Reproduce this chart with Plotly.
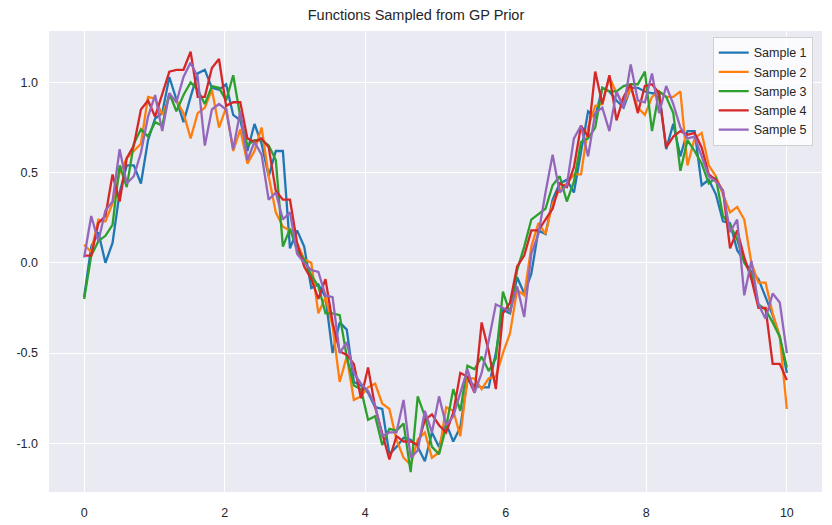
import numpy as np
import plotly.graph_objects as go

x_vals = np.linspace(0, 10, 100)

sample_1 = [-0.19, 0.09, 0.17, 0.0, 0.11, 0.39, 0.54, 0.54, 0.44, 0.68, 0.80, 0.83, 1.03, 0.91, 0.78, 0.92, 1.05, 1.07, 0.97, 0.96,
            0.99, 0.82, 0.79, 0.62, 0.77, 0.66, 0.48, 0.62, 0.62, 0.08, 0.18, 0.09, -0.14, -0.12, -0.19, -0.50, -0.33, -0.37, -0.66, -0.68,
            -0.72, -0.80, -0.81, -1.06, -1.02, -0.97, -0.98, -1.02, -1.10, -0.94, -1.02, -0.89, -0.99, -0.91, -0.65, -0.68, -0.69, -0.69, -0.50, -0.26,
            -0.28, -0.08, -0.17, -0.06, 0.18, 0.16, 0.35, 0.44, 0.46, 0.39, 0.62, 0.84, 0.81, 0.97, 0.95, 0.90, 0.86, 0.97, 0.97, 0.95,
            0.94, 0.94, 0.63, 0.77, 0.59, 0.73, 0.73, 0.43, 0.46, 0.38, 0.23, 0.22, 0.07, 0.01, -0.05, -0.09, -0.19, -0.29, -0.41, -0.61]

sample_2 = [0.10, 0.06, 0.24, 0.23, 0.33, 0.50, 0.58, 0.62, 0.66, 0.92, 0.91, 0.82, 0.92, 0.90, 0.83, 0.69, 0.83, 0.86, 0.96, 0.75,
            0.86, 0.62, 0.74, 0.55, 0.62, 0.75, 0.48, 0.28, 0.20, 0.18, 0.11, 0.02, 0.0, -0.28, -0.19, -0.35, -0.66, -0.52, -0.76, -0.74,
            -0.69, -0.67, -0.78, -0.81, -0.98, -1.08, -1.12, -0.98, -0.94, -1.08, -1.05, -0.80, -0.82, -0.96, -0.64, -0.64, -0.70, -0.64, -0.63, -0.50,
            -0.39, -0.15, -0.18, 0.09, 0.22, 0.16, 0.33, 0.41, 0.44, 0.49, 0.49, 0.75, 0.87, 0.88, 1.03, 0.94, 0.88, 0.97, 0.86, 0.82,
            0.92, 0.95, 0.92, 0.92, 0.95, 0.54, 0.69, 0.72, 0.54, 0.48, 0.38, 0.28, 0.31, 0.24, 0.0, -0.11, -0.11, -0.28, -0.41, -0.81]

sample_3 = [-0.20, 0.04, 0.12, 0.15, 0.21, 0.54, 0.42, 0.66, 0.74, 0.70, 0.78, 0.76, 0.94, 0.84, 0.93, 1.00, 0.96, 0.88, 0.98, 0.97,
            0.90, 1.04, 0.81, 0.65, 0.68, 0.68, 0.65, 0.57, 0.09, 0.19, 0.07, 0.02, -0.07, -0.13, -0.28, -0.28, -0.29, -0.52, -0.68, -0.70,
            -0.87, -0.85, -1.01, -0.92, -0.93, -0.89, -1.16, -0.74, -0.85, -1.02, -1.06, -0.91, -0.70, -0.82, -0.57, -0.59, -0.52, -0.60, -0.53, -0.16,
            -0.28, -0.04, 0.09, 0.24, 0.27, 0.30, 0.43, 0.48, 0.34, 0.45, 0.67, 0.69, 0.75, 0.97, 0.95, 0.95, 0.98, 0.99, 0.99, 1.06,
            0.73, 0.95, 0.92, 0.83, 0.51, 0.68, 0.62, 0.55, 0.44, 0.47, 0.26, 0.21, 0.13, 0.0, -0.06, -0.23, -0.26, -0.33, -0.41, -0.58]

sample_4 = [0.04, 0.04, 0.22, 0.26, 0.49, 0.34, 0.58, 0.65, 0.85, 0.90, 0.81, 0.93, 1.06, 1.07, 1.07, 1.17, 0.92, 0.92, 1.08, 1.13,
            0.87, 0.89, 0.89, 0.69, 0.67, 0.69, 0.64, 0.40, 0.35, 0.35, 0.11, -0.02, -0.09, -0.20, -0.09, -0.33, -0.49, -0.51, -0.56, -0.75,
            -0.58, -0.80, -0.94, -1.09, -0.96, -0.99, -0.99, -1.01, -0.87, -0.84, -0.90, -0.94, -0.83, -0.61, -0.63, -0.72, -0.33, -0.49, -0.70, -0.28,
            -0.22, -0.02, 0.04, 0.18, 0.18, 0.24, 0.30, 0.44, 0.42, 0.53, 0.76, 0.70, 1.06, 0.88, 1.04, 0.79, 0.92, 0.99, 0.83, 0.98,
            0.99, 0.94, 0.64, 0.70, 0.73, 0.71, 0.72, 0.64, 0.49, 0.46, 0.40, 0.08, 0.18, 0.03, -0.09, -0.25, -0.25, -0.56, -0.56, -0.65]

sample_5 = [0.03, 0.26, 0.12, 0.29, 0.34, 0.63, 0.44, 0.48, 0.61, 0.81, 0.93, 0.73, 0.94, 0.89, 1.03, 1.11, 1.03, 0.65, 0.85, 0.88,
            0.85, 0.63, 0.84, 0.57, 0.67, 0.60, 0.35, 0.39, 0.24, 0.28, 0.05, 0.0, -0.04, -0.05, -0.18, -0.19, -0.50, -0.44, -0.61, -0.67,
            -0.71, -0.79, -0.96, -0.94, -0.94, -0.76, -1.08, -1.04, -0.82, -0.94, -0.74, -0.90, -0.85, -0.72, -0.59, -0.72, -0.61, -0.43, -0.23, -0.25,
            -0.27, -0.13, -0.30, 0.05, 0.16, 0.39, 0.60, 0.39, 0.43, 0.69, 0.76, 0.59, 0.83, 0.86, 0.73, 0.95, 0.86, 1.10, 0.90, 0.89,
            1.05, 0.83, 0.98, 0.88, 0.75, 0.69, 0.70, 0.59, 0.48, 0.45, 0.40, 0.17, 0.24, -0.18, 0.01, -0.23, -0.31, -0.17, -0.22, -0.50]

series_names = ["Sample 1", "Sample 2", "Sample 3", "Sample 4", "Sample 5"]
series_values = [sample_1, sample_2, sample_3, sample_4, sample_5]
colors = ["#1f77b4", "#ff7f0e", "#2ca02c", "#d62728", "#9467bd"]

x_ticks = [0, 2, 4, 6, 8, 10]
y_ticks = [-1.0, -0.5, 0.0, 0.5, 1.0]

fig = go.Figure()
for name, vals, c in zip(series_names, series_values, colors):
    fig.add_trace(go.Scatter(x=x_vals, y=vals, mode="lines", name=name,
                             line=dict(color=c, width=2.3)))

font_family = "Liberation Sans, Arial, sans-serif"
fig.update_layout(
    width=832, height=525,
    margin=dict(l=49, r=10, t=31, b=33),
    paper_bgcolor="white",
    plot_bgcolor="#EAEAF2",
    font=dict(family=font_family, size=12, color="#262626"),
    title=dict(text="Functions Sampled from GP Prior", x=0.5, xanchor="center",
               y=1 - 15 / 525, yanchor="middle",
               font=dict(family=font_family, size=14.5, color="#262626")),
    showlegend=True,
    legend=dict(x=0.988, y=0.987, xanchor="right", yanchor="top",
                bgcolor="rgba(255,255,255,0.8)", bordercolor="#D0D0D0", borderwidth=1,
                font=dict(family=font_family, size=12.5, color="#262626"),
                tracegroupgap=0, itemwidth=30),
    xaxis=dict(range=[-0.5, 10.5], tickvals=x_ticks, ticktext=[str(t) for t in x_ticks],
               showgrid=True, gridcolor="white", gridwidth=1, zeroline=False,
               showline=False, ticks="", ticklabelstandoff=11, automargin=False,
               tickfont=dict(size=12.5, color="#262626")),
    yaxis=dict(range=[-1.27, 1.285], tickvals=y_ticks, ticktext=[f"{t:.1f}" for t in y_ticks],
               showgrid=True, gridcolor="white", gridwidth=1, zeroline=False,
               showline=False, ticks="", ticklabelstandoff=10, automargin=False,
               tickfont=dict(size=12.5, color="#262626")),
)

fig.write_html("out.html")
